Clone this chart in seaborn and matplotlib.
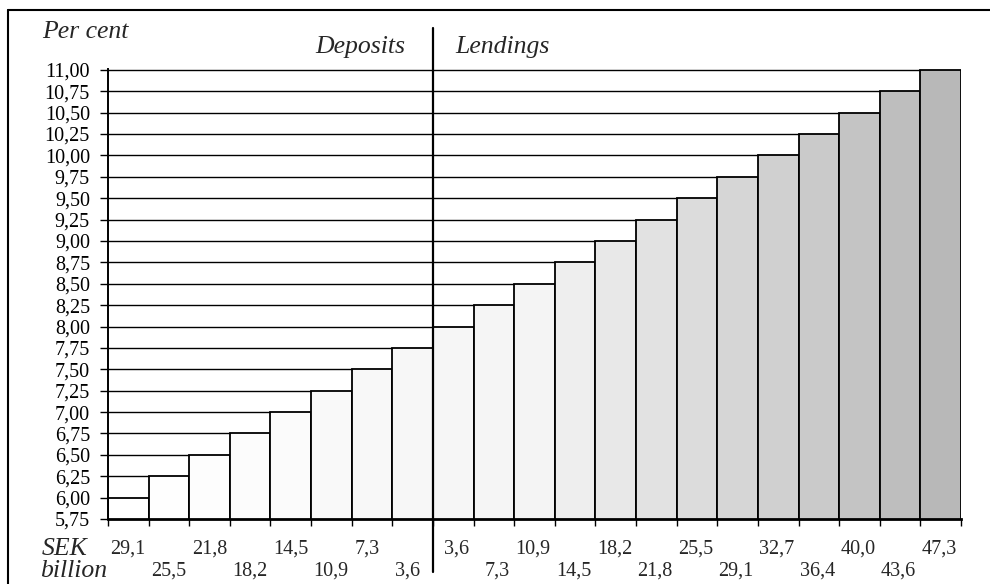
import pandas as pd
import seaborn as sns
import matplotlib.pyplot as plt
from matplotlib.lines import Line2D
from matplotlib.ticker import FuncFormatter

# interest rate steps (per cent), deposits then lendings
deposit_rates = [6.00, 6.25, 6.50, 6.75, 7.00, 7.25, 7.50, 7.75]
lending_rates = [8.00, 8.25, 8.50, 8.75, 9.00, 9.25, 9.50, 9.75,
                 10.00, 10.25, 10.50, 10.75, 11.00]

# cumulative volumes (SEK billion) shown under the bar boundaries
deposit_volumes = ["29,1", "25,5", "21,8", "18,2", "14,5", "10,9", "7,3", "3,6"]
lending_volumes = ["3,6", "7,3", "10,9", "14,5", "18,2", "21,8", "25,5",
                   "29,1", "32,7", "36,4", "40,0", "43,6", "47,3"]

y_floor = 5.75

rates = deposit_rates + lending_rates
n_dep = len(deposit_rates)
df = pd.DataFrame({
    "bar": [f"b{i}" for i in range(len(rates))],
    "rate": rates,
})

sns.set_theme(style="white")
plt.rcParams["font.family"] = ["Liberation Serif", "DejaVu Serif"]

W, H = 990, 584
fig = plt.figure(figsize=(W / 100, H / 100), dpi=100)
ax = fig.add_axes([108 / W, 1 - 519 / H, (961 - 108) / W, 450 / H])

pal = sns.blend_palette(["#ffffff", "#f4f4f4", "#b8b8b8"], len(rates))
sns.barplot(data=df, x="bar", y="rate", hue="bar", palette=pal, width=1,
            edgecolor="black", linewidth=1.3, saturation=1, errorbar=None,
            legend=False, ax=ax)

ax.set_xlim(-0.5, len(rates) - 0.5)
ax.set_ylim(y_floor, max(rates) + 0.01)
ax.set_xlabel("")
ax.set_ylabel("")

for side in ["top", "right"]:
    ax.spines[side].set_visible(False)
ax.spines["left"].set_linewidth(1.4)
ax.spines["bottom"].set_linewidth(2.0)
for side in ["left", "bottom"]:
    ax.spines[side].set_color("black")

# y axis: every rate step
ax.set_yticks([y_floor] + rates)
ax.yaxis.set_major_formatter(FuncFormatter(lambda v, _: f"{v:.2f}".replace(".", ",")))
ax.tick_params(axis="y", direction="out", length=6, width=1, pad=7,
               labelsize=14.5, colors="black", left=True)

# x axis: ticks on bar boundaries
dep_ticks = [i - 0.5 for i in range(n_dep)]
lend_ticks = [n_dep + 0.5 + j for j in range(len(lending_rates))]
ax.set_xticks(dep_ticks + [n_dep - 0.5] + lend_ticks, labels=[])
ax.tick_params(axis="x", direction="out", length=5, width=1, colors="black",
               bottom=True)

# step lines from the axis to each bar
for k, r in enumerate(rates):
    if k > 0:
        ax.hlines(r, -0.5, k - 0.5, color="black", lw=1.0, zorder=1)

# volume labels, two staggered rows
tr = ax.get_xaxis_transform()
rows = [-0.067, -0.116]
for i, lab in enumerate(deposit_volumes):
    ax.text(dep_ticks[i] + 0.06, rows[i % 2], lab, ha="left", va="center",
            fontsize=14.5, transform=tr)
for j, lab in enumerate(lending_volumes):
    ax.text(lend_ticks[j] - 0.1, rows[j % 2], lab, ha="right", va="center",
            fontsize=14.5, transform=tr)

# divider between deposits and lendings
ax.plot([n_dep - 0.5, n_dep - 0.5], [-0.118, 1.091], color="black", lw=1.6,
        transform=tr, clip_on=False)
ax.text(n_dep - 0.5 - 0.68, 1.049, "Deposits", ha="right", va="center",
        fontsize=18.5, style="italic", transform=tr)
ax.text(n_dep - 0.5 + 0.55, 1.049, "Lendings", ha="left", va="center",
        fontsize=18.5, style="italic", transform=tr)

fig.text(42 / W, 1 - 32 / H, "Per cent", ha="left", va="center",
         fontsize=18.5, style="italic")
fig.text(42 / W, 1 - 549 / H, "SEK", ha="left", va="center",
         fontsize=18.5, style="italic")
fig.text(40 / W, 1 - 571 / H, "billion", ha="left", va="center",
         fontsize=18.5, style="italic")

# page frame
fig.add_artist(Line2D([8 / W, 1], [1 - 10 / H, 1 - 10 / H], color="black", lw=1.5))
fig.add_artist(Line2D([8 / W, 8 / W], [0, 1 - 10 / H], color="black", lw=1.5))

fig.savefig("out.png", dpi=100)
